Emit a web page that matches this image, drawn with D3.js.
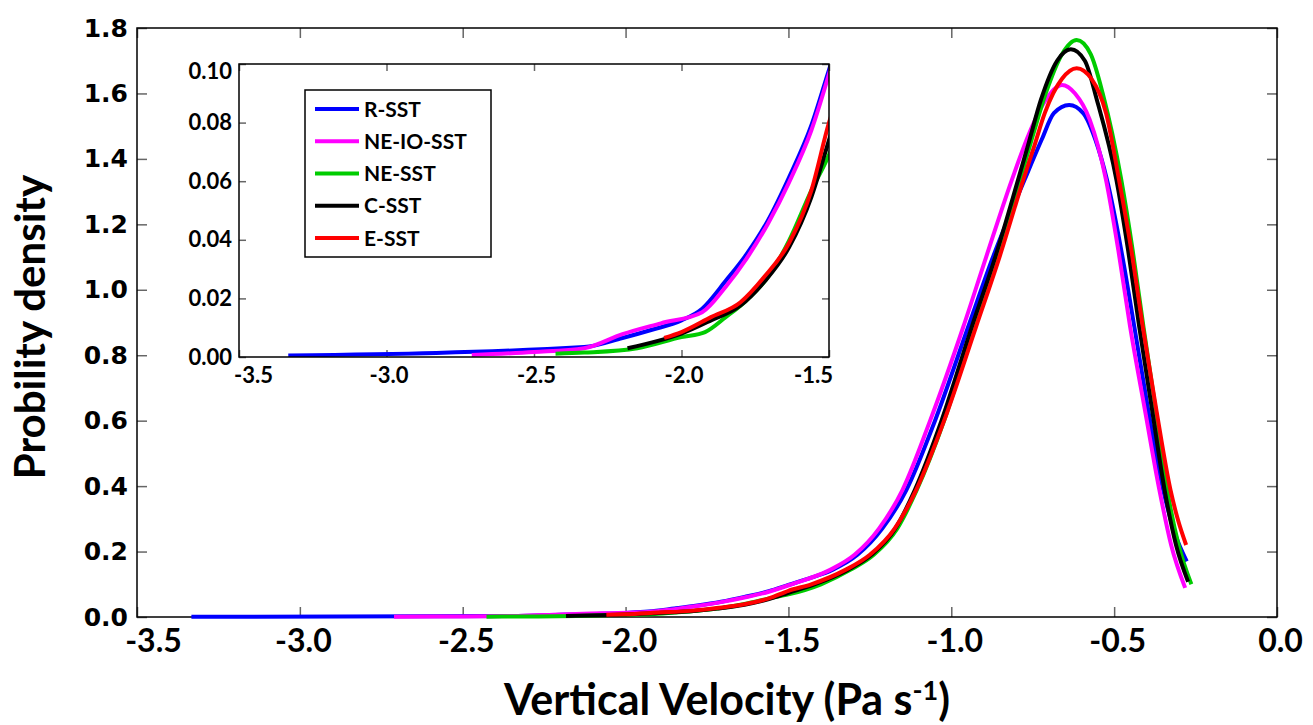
<!DOCTYPE html>
<html>
<head>
<meta charset="utf-8">
<script src="https://cdn.jsdelivr.net/npm/d3@7"></script>
<style>
  body { margin: 0; background: #fff; }
  svg { display: block; }
  .lbl { font-family: Lato, "Open Sans", sans-serif; font-weight: 700; fill: #000; }
</style>
</head>
<body>
<svg id="chart" width="1313" height="725"></svg>
<script>
// series (x = vertical velocity, y = density)
const seriesNames = ['R-SST', 'NE-IO-SST', 'NE-SST', 'C-SST', 'E-SST'];
const seriesColors = ['#0000ff', '#ff00ff', '#00cc00', '#000000', '#ff0000'];

const rSST = [
  [-3.333, 0.0005], [-2.33, 0.0034], [-2.2, 0.0065], [-2.1, 0.0093], [-2.0, 0.0125],
  [-1.93, 0.0165], [-1.85, 0.026], [-1.78, 0.035], [-1.707, 0.0466], [-1.635, 0.0614],
  [-1.56, 0.079], [-1.5, 0.098], [-1.43, 0.12], [-1.365, 0.144], [-1.288, 0.19],
  [-1.212, 0.27], [-1.138, 0.388], [-1.05, 0.60], [-0.948, 0.887], [-0.872, 1.10],
  [-0.775, 1.336], [-0.722, 1.46], [-0.685, 1.54], [-0.638, 1.565], [-0.595, 1.54],
  [-0.558, 1.46], [-0.522, 1.336], [-0.478, 1.12], [-0.438, 0.887], [-0.395, 0.63],
  [-0.352, 0.40], [-0.315, 0.26], [-0.277, 0.17]
];

const neIoSST = [
  [-2.711, 0.0007], [-2.5, 0.0017], [-2.33, 0.003], [-2.2, 0.0078], [-2.07, 0.0115],
  [-1.93, 0.0153], [-1.85, 0.024], [-1.78, 0.0335], [-1.707, 0.0455], [-1.635, 0.0597],
  [-1.56, 0.0773], [-1.49, 0.10], [-1.372, 0.144], [-1.297, 0.19], [-1.222, 0.27],
  [-1.15, 0.388], [-1.065, 0.60], [-0.963, 0.887], [-0.893, 1.10], [-0.814, 1.336],
  [-0.76, 1.48], [-0.71, 1.58], [-0.66, 1.626], [-0.62, 1.60], [-0.575, 1.52],
  [-0.525, 1.336], [-0.487, 1.12], [-0.451, 0.887], [-0.405, 0.63], [-0.361, 0.388],
  [-0.325, 0.22], [-0.282, 0.089]
];

const neSST = [
  [-2.427, 0.0011], [-2.33, 0.0015], [-2.15, 0.003], [-2.0, 0.0068], [-1.92, 0.0085],
  [-1.85, 0.0136], [-1.78, 0.0193], [-1.707, 0.0273], [-1.635, 0.0398], [-1.56, 0.0568],
  [-1.5, 0.069], [-1.4, 0.10], [-1.31, 0.144], [-1.238, 0.19], [-1.166, 0.27],
  [-1.106, 0.388], [-1.022, 0.60], [-0.93, 0.887], [-0.861, 1.10], [-0.789, 1.336],
  [-0.75, 1.47], [-0.71, 1.60], [-0.66, 1.72], [-0.615, 1.763], [-0.572, 1.72],
  [-0.535, 1.60], [-0.478, 1.336], [-0.443, 1.12], [-0.41, 0.887], [-0.372, 0.63],
  [-0.337, 0.388], [-0.302, 0.22], [-0.263, 0.10]
];

const cSST = [
  [-2.183, 0.003], [-2.08, 0.0055], [-2.0, 0.008], [-1.9, 0.0125], [-1.8, 0.0176],
  [-1.72, 0.0256], [-1.635, 0.0375], [-1.56, 0.0545], [-1.5, 0.074], [-1.42, 0.10],
  [-1.318, 0.144], [-1.245, 0.19], [-1.172, 0.27], [-1.112, 0.388], [-1.03, 0.60],
  [-0.937, 0.887], [-0.865, 1.10], [-0.795, 1.336], [-0.762, 1.45], [-0.725, 1.58],
  [-0.675, 1.70], [-0.633, 1.735], [-0.59, 1.70], [-0.553, 1.58], [-0.493, 1.336],
  [-0.457, 1.12], [-0.423, 0.887], [-0.383, 0.63], [-0.345, 0.388], [-0.31, 0.22],
  [-0.273, 0.108]
];

const eSST = [
  [-2.059, 0.0065], [-2.0, 0.0085], [-1.9, 0.0136], [-1.8, 0.0187], [-1.72, 0.0273],
  [-1.635, 0.039], [-1.56, 0.0568], [-1.5, 0.080], [-1.43, 0.10], [-1.325, 0.144],
  [-1.25, 0.19], [-1.174, 0.27], [-1.108, 0.388], [-1.022, 0.60], [-0.924, 0.887],
  [-0.852, 1.10], [-0.779, 1.336], [-0.745, 1.44], [-0.713, 1.54], [-0.66, 1.645],
  [-0.615, 1.677], [-0.57, 1.645], [-0.525, 1.54], [-0.485, 1.336], [-0.447, 1.12],
  [-0.412, 0.887], [-0.37, 0.63], [-0.327, 0.388], [-0.305, 0.30], [-0.279, 0.22]
];

const seriesData = [rSST, neIoSST, neSST, cSST, eSST];

const xTicks = [-3.5, -3.0, -2.5, -2.0, -1.5, -1.0, -0.5, 0.0];
const yTicks = [0, 0.2, 0.4, 0.6, 0.8, 1.0, 1.2, 1.4, 1.6, 1.8];
const insetXTicks = [-3.5, -3.0, -2.5, -2.0, -1.5];
const insetYTicks = [0, 0.02, 0.04, 0.06, 0.08, 0.10];

const svg = d3.select('#chart');
const tickColor = '#666';

// main plot
const x = d3.scaleLinear().domain([-3.5, 0]).range([137, 1277]);
const y = d3.scaleLinear().domain([0, 1.8]).range([617, 28]);

function styleAxis(g, size, family) {
  g.select('.domain').remove();
  g.selectAll('.tick line').attr('stroke', tickColor).attr('stroke-width', 1.5);
  g.selectAll('.tick text')
    .attr('class', 'lbl')
    .style('font-size', size + 'px')
    .style('font-family', family || null);
}

svg.append('g')
  .attr('transform', `translate(0,${y.range()[0]})`)
  .call(d3.axisBottom(x).tickValues(xTicks).tickSize(-10).tickPadding(12)
    .tickFormat((d) => d.toFixed(1)))
  .call((g) => styleAxis(g, 32))
  .call((g) => g.selectAll('.tick text').attr('dx', (d, i) => (i === 0 ? 16 : 3)));

svg.append('g')
  .attr('transform', `translate(0,${y.range()[1]})`)
  .call(d3.axisTop(x).tickValues(xTicks).tickSize(-10).tickFormat(''))
  .call((g) => styleAxis(g, 10));

svg.append('g')
  .attr('transform', `translate(${x.range()[0]},0)`)
  .call(d3.axisLeft(y).tickValues(yTicks).tickSize(-10).tickPadding(9)
    .tickFormat((d) => d.toFixed(1)))
  .call((g) => styleAxis(g, 25, '"DejaVu Sans", Verdana, sans-serif'));

svg.append('g')
  .attr('transform', `translate(${x.range()[1]},0)`)
  .call(d3.axisRight(y).tickValues(yTicks).tickSize(-10).tickFormat(''))
  .call((g) => styleAxis(g, 10));

svg.append('rect')
  .attr('x', x.range()[0]).attr('y', y.range()[1])
  .attr('width', x.range()[1] - x.range()[0])
  .attr('height', y.range()[0] - y.range()[1])
  .attr('fill', 'none').attr('stroke', '#000').attr('stroke-width', 1.5);

const mainLine = d3.line()
  .x((d) => x(d[0]))
  .y((d) => y(d[1]))
  .curve(d3.curveMonotoneX);

svg.append('g')
  .selectAll('path')
  .data(seriesData)
  .join('path')
  .attr('d', mainLine)
  .attr('fill', 'none')
  .attr('stroke', (d, i) => seriesColors[i])
  .attr('stroke-width', 4);

// axis titles
svg.append('text')
  .attr('class', 'lbl')
  .attr('transform', 'translate(45,327) rotate(-90)')
  .attr('text-anchor', 'middle')
  .style('font-size', '42px')
  .text('Probility density');

const xTitle = svg.append('text')
  .attr('class', 'lbl')
  .attr('x', 727)
  .attr('y', 715)
  .attr('text-anchor', 'middle')
  .style('font-size', '43px');
xTitle.append('tspan').text('Vertical Velocity (Pa s');
xTitle.append('tspan').attr('dy', -15).style('font-size', '27px').text('-1');
xTitle.append('tspan').attr('dy', 15).text(')');

// inset
const ix = d3.scaleLinear().domain([-3.5, -1.5]).range([239, 829]);
const iy = d3.scaleLinear().domain([0, 0.1]).range([357, 64]);

const inset = svg.append('g');

inset.append('rect')
  .attr('x', ix.range()[0]).attr('y', iy.range()[1])
  .attr('width', ix.range()[1] - ix.range()[0])
  .attr('height', iy.range()[0] - iy.range()[1])
  .attr('fill', '#fff');

inset.append('clipPath').attr('id', 'inset-clip')
  .append('rect')
  .attr('x', ix.range()[0]).attr('y', iy.range()[1])
  .attr('width', ix.range()[1] - ix.range()[0])
  .attr('height', iy.range()[0] - iy.range()[1]);

inset.append('g')
  .attr('transform', `translate(0,${iy.range()[0]})`)
  .call(d3.axisBottom(ix).tickValues(insetXTicks).tickSize(-7).tickPadding(10)
    .tickFormat((d) => d.toFixed(1)))
  .call((g) => styleAxis(g, 22))
  .call((g) => g.selectAll('.tick text')
    .attr('dx', (d, i) => (i === 0 ? 14 : i === insetXTicks.length - 1 ? -16 : 2)));

inset.append('g')
  .attr('transform', `translate(0,${iy.range()[1]})`)
  .call(d3.axisTop(ix).tickValues(insetXTicks).tickSize(-7).tickFormat(''))
  .call((g) => styleAxis(g, 10));

inset.append('g')
  .attr('transform', `translate(${ix.range()[0]},0)`)
  .call(d3.axisLeft(iy).tickValues(insetYTicks).tickSize(-7).tickPadding(7)
    .tickFormat((d) => d.toFixed(2)))
  .call((g) => styleAxis(g, 22))
  .call((g) => g.selectAll('.tick text')
    .attr('y', (d, i) => (i === insetYTicks.length - 1 ? 7 : 0)));

inset.append('g')
  .attr('transform', `translate(${ix.range()[1]},0)`)
  .call(d3.axisRight(iy).tickValues(insetYTicks).tickSize(-7).tickFormat(''))
  .call((g) => styleAxis(g, 10));

const insetLine = d3.line()
  .x((d) => ix(d[0]))
  .y((d) => iy(d[1]))
  .curve(d3.curveMonotoneX);

inset.append('g')
  .attr('clip-path', 'url(#inset-clip)')
  .selectAll('path')
  .data(seriesData)
  .join('path')
  .attr('d', insetLine)
  .attr('fill', 'none')
  .attr('stroke', (d, i) => seriesColors[i])
  .attr('stroke-width', 4);

inset.append('rect')
  .attr('x', ix.range()[0]).attr('y', iy.range()[1])
  .attr('width', ix.range()[1] - ix.range()[0])
  .attr('height', iy.range()[0] - iy.range()[1])
  .attr('fill', 'none').attr('stroke', '#000').attr('stroke-width', 1.5);

// legend
const legend = inset.append('g');
legend.append('rect')
  .attr('x', 305).attr('y', 90).attr('width', 186).attr('height', 167)
  .attr('fill', '#fff').attr('stroke', '#000').attr('stroke-width', 1.5);

const legendRow = d3.scalePoint().domain(seriesNames).range([109, 238]);

const items = legend.selectAll('g.item')
  .data(seriesNames)
  .join('g')
  .attr('class', 'item')
  .attr('transform', (d) => `translate(0,${legendRow(d)})`);

items.append('line')
  .attr('x1', 315).attr('x2', 359)
  .attr('stroke', (d, i) => seriesColors[i])
  .attr('stroke-width', 4);

items.append('text')
  .attr('class', 'lbl')
  .attr('x', 364)
  .attr('dy', '0.36em')
  .style('font-size', '21px')
  .text((d) => d);
</script>
</body>
</html>
